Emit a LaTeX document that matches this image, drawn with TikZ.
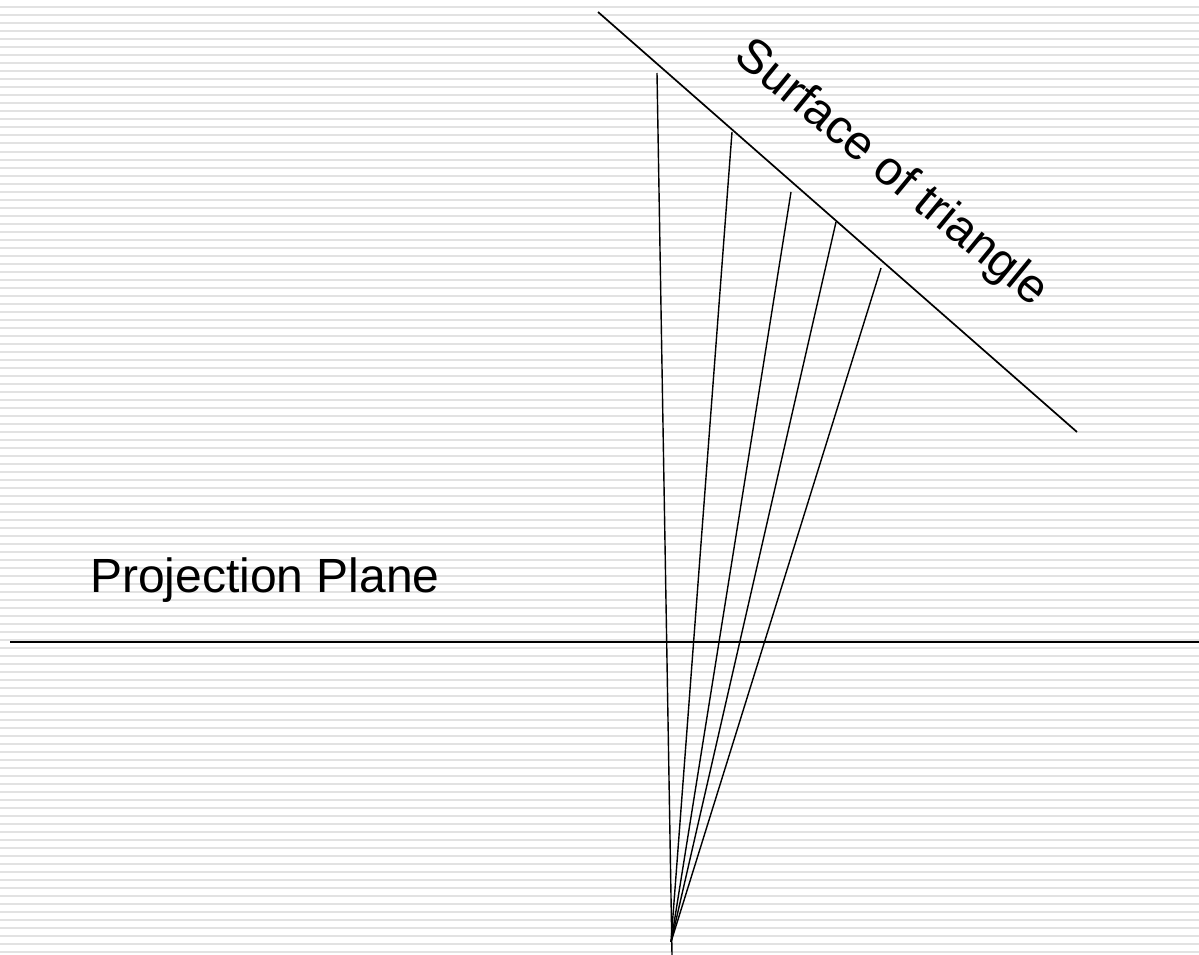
\documentclass[tikz,border=0pt]{standalone}
\usepackage{fontspec}
\setmainfont{Liberation Sans}
\usetikzlibrary{positioning}

\definecolor{stripe}{RGB}{226,226,226}

\begin{document}
\begin{tikzpicture}[x=1pt, y=-1pt,
  ray/.style={line width=1.4pt},
  edge/.style={line width=1.7pt},
  label/.style={font=\fontsize{48}{57}\selectfont, inner sep=0pt}]
  \useasboundingbox (0,0) rectangle (1199,955);
  % striped background
  \foreach \k in {0,...,119}
    \draw[stripe, line width=2pt] (0,7.5+8*\k) -- (1199,7.5+8*\k);

  \coordinate (s1) at (598,12);
  \coordinate (s2) at (1077,432);
  \coordinate (pl) at (10,642);
  \coordinate (pr) at (1199,642);
  \coordinate (eye) at (671,942);
  \coordinate (base) at (672,955);
  \coordinate (p1) at (657,73);
  \coordinate (p2) at (732,132);
  \coordinate (p3) at (791,192);
  \coordinate (p4) at (836,222);
  \coordinate (p5) at (881,268);

  \draw[edge] (s1) -- (s2);
  \draw[edge] (pl) -- (pr);
  \draw[ray] (p1) -- (base);
  \foreach \p in {p2,p3,p4,p5}
    \draw[ray] (\p) -- (eye);

  \node[label, anchor=base] (proj) at (265,592) {Projection Plane};
  \node[label, rotate=-39.5] (surf) at (891,174) {Surface of triangle};
\end{tikzpicture}
\end{document}
